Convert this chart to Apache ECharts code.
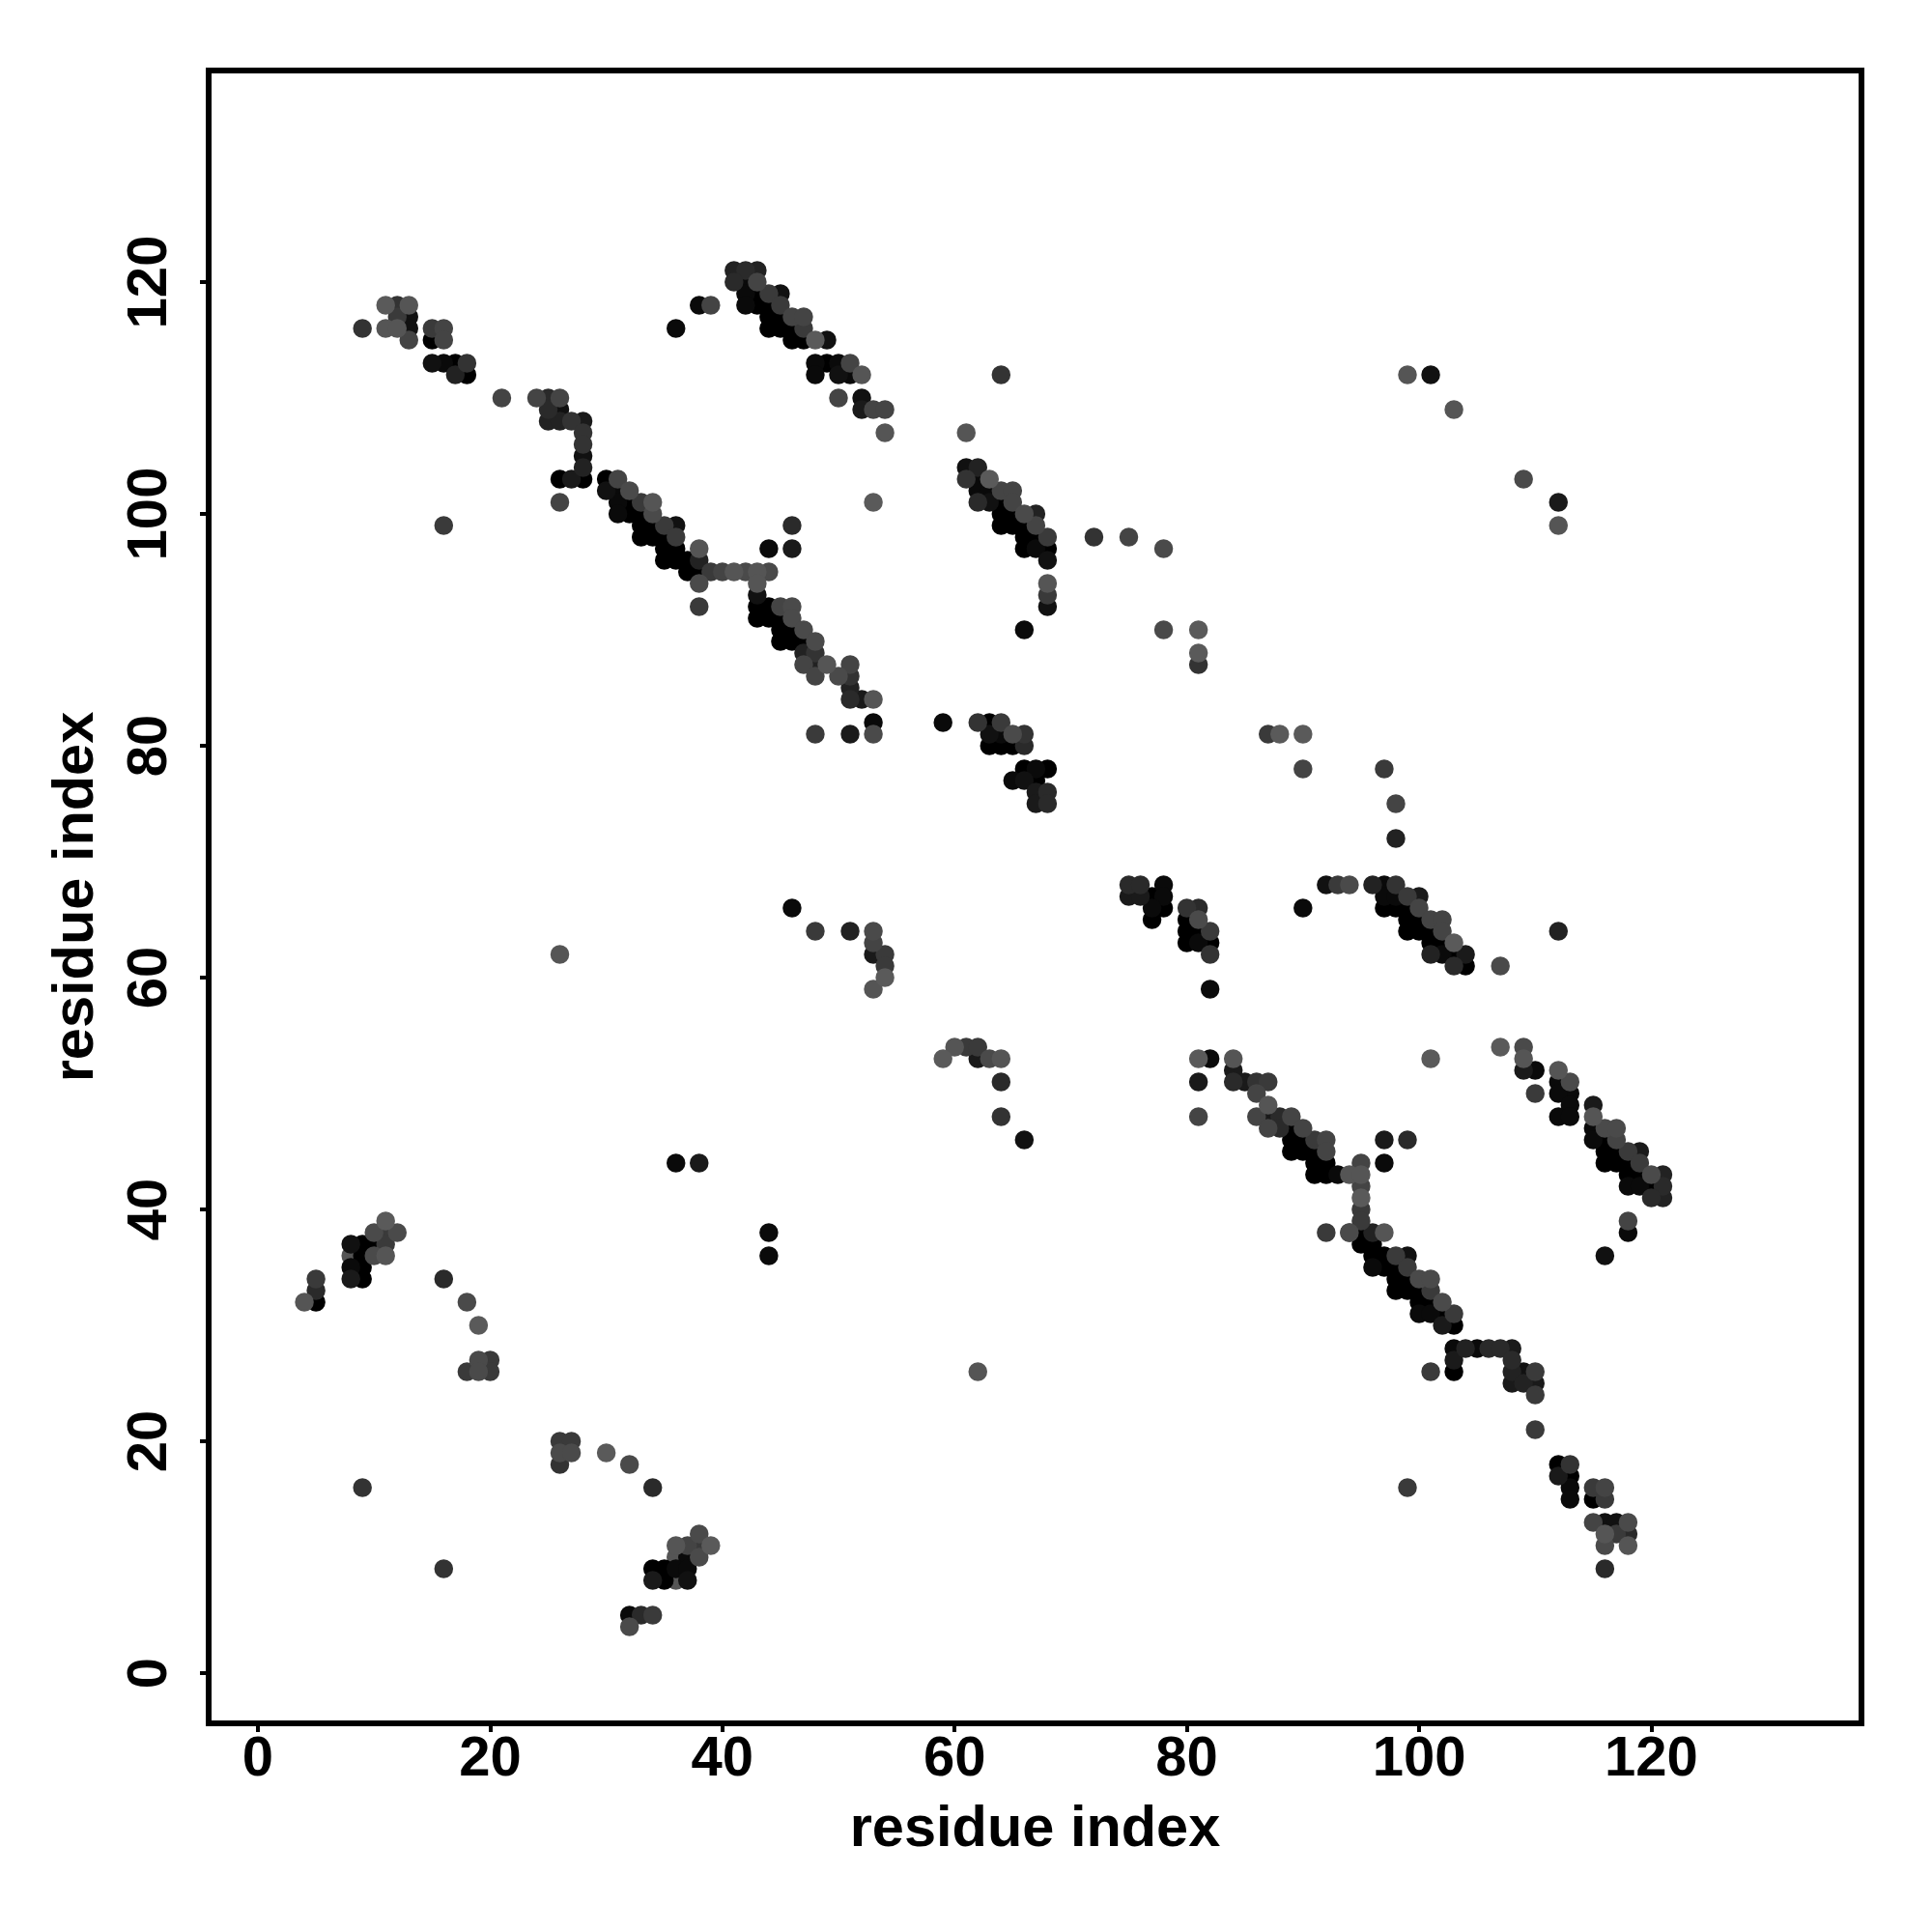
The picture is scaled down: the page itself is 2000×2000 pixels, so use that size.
<!DOCTYPE html>
<html>
<head>
<meta charset="utf-8">
<style>html,body{margin:0;padding:0;background:#fff}#c{width:2000px;height:2000px}</style>
<script src="https://cdn.jsdelivr.net/npm/echarts@6/dist/echarts.min.js"></script>
</head>
<body>
<div id="c"></div>
<script>
// Each contact: [residue i, residue j, grey level]
const xTicks = [0,20,40,60,80,100,120];
const yTicks = [0,20,40,60,80,100,120];
const axisName = 'residue index';
const xLimits = [-4.243, 138.1];
const yLimits = [-4.333, 138.25];
const greyRange = [0, 102];

const sheetTopLeft = [[9,116,51],[11,118,90],[12,118,51],[13,118,85],[12,117,58],[13,117,17],[11,116,85],[12,116,85],[13,116,17],[13,115,68],[15,116,58],[16,116,68],[15,115,0],[16,115,68],[15,113,17],[16,113,10],[17,113,0],[18,113,51],[17,112,34],[18,112,0],[21,110,68],[24,110,68],[25,110,42],[26,110,68],[25,109,42],[26,109,17],[25,108,34],[26,108,34],[27,108,51],[28,108,26],[28,107,51],[28,106,51],[28,105,17],[28,104,34],[28,103,0],[26,103,0],[27,103,26],[26,101,68],[16,99,58]];
const diagMainUpper = [[30,103,0],[31,103,68],[30,102,17],[31,102,10],[32,102,74],[31,101,10],[32,101,0],[33,101,58],[34,101,85],[31,100,10],[32,100,0],[33,100,0],[34,100,74],[33,99,0],[34,99,0],[35,99,58],[36,99,17],[33,98,0],[34,98,0],[35,98,0],[36,98,58],[35,97,0],[36,97,0],[38,97,85],[35,96,0],[36,96,0],[37,96,0],[38,96,34],[37,95,0],[38,95,0],[39,95,58],[40,95,68],[41,95,85],[42,95,74],[43,95,85],[44,95,74],[38,94,74],[38,92,58],[43,94,85],[43,93,17],[44,97,10],[46,97,26],[46,99,42]];
const diagMainLower = [[43,92,0],[44,92,0],[45,92,68],[46,92,74],[43,91,0],[44,91,0],[45,91,0],[46,91,74],[45,90,0],[46,90,0],[47,90,74],[45,89,0],[46,89,0],[47,89,0],[48,89,74],[47,88,34],[48,88,51],[47,87,68],[48,87,34],[49,87,85],[51,87,68],[48,86,68],[50,86,74],[51,86,51],[51,85,34],[51,84,42],[52,84,26],[53,84,85],[53,82,10],[53,81,74],[51,81,26],[48,81,58],[59,82,10]];
const diagSecondTop = [[36,116,10],[38,118,10],[39,118,68],[41,121,34],[42,121,42],[43,121,34],[41,120,42],[42,120,10],[43,120,68],[42,119,10],[43,119,0],[44,119,58],[45,119,17],[42,118,10],[43,118,0],[44,118,0],[45,118,58],[44,117,0],[45,117,0],[46,117,68],[47,117,68],[44,116,0],[45,116,0],[46,116,0],[47,116,58],[46,115,0],[47,115,0],[48,115,90],[49,115,17],[48,113,10],[49,113,0],[50,113,10],[51,113,68],[48,112,10],[50,112,17],[51,112,10],[52,112,85],[50,110,68],[52,110,17],[52,109,26],[53,109,68],[54,109,68],[54,107,85],[53,101,90],[64,112,51]];
const blockSixties = [[61,107,85],[61,104,17],[62,104,34],[61,103,51],[62,103,10],[63,103,90],[62,102,10],[63,102,10],[64,102,68],[65,102,68],[62,101,42],[63,101,17],[64,101,0],[65,101,68],[64,100,0],[65,100,0],[66,100,74],[67,100,34],[64,99,0],[65,99,0],[66,99,0],[67,99,68],[66,98,0],[67,98,0],[68,98,58],[66,97,0],[67,97,10],[68,97,0],[68,96,17],[68,94,85],[68,93,58],[68,92,17],[66,90,10],[72,98,51],[75,98,68],[78,97,74],[78,90,74],[81,90,90],[81,88,90],[81,87,51],[87,81,58],[88,81,90],[90,81,90],[90,78,68],[97,78,58],[98,75,68],[98,72,34]];
const blockEighty = [[62,82,51],[63,82,0],[64,82,58],[63,81,17],[64,81,10],[65,81,74],[66,81,51],[63,80,0],[64,80,0],[65,80,0],[66,80,42],[66,78,0],[67,78,10],[68,78,0],[65,77,10],[66,77,17],[67,77,0],[67,76,26],[68,76,42],[67,75,26],[68,75,42]];
const blockSeventy = [[75,68,42],[76,68,42],[78,68,10],[75,67,26],[76,67,26],[77,67,0],[78,67,10],[77,66,10],[78,66,0],[77,65,0],[80,66,51],[81,66,42],[80,65,0],[81,65,74],[80,64,0],[81,64,0],[82,64,58],[80,63,0],[81,63,10],[82,63,0],[82,62,51],[82,59,10]];
const diagHundred = [[90,66,10],[92,68,17],[93,68,58],[94,68,74],[96,68,34],[97,68,10],[98,68,51],[97,67,10],[98,67,10],[99,67,58],[100,67,26],[97,66,0],[98,66,0],[99,66,0],[100,66,68],[99,65,0],[100,65,0],[101,65,68],[102,65,68],[99,64,0],[100,64,0],[101,64,0],[102,64,68],[101,63,0],[102,63,0],[103,63,90],[101,62,34],[102,62,10],[103,62,0],[104,62,26],[103,61,42],[104,61,0],[107,61,74],[112,64,34]];
const diagFifties = [[81,53,90],[82,53,10],[84,53,85],[81,51,26],[81,48,68],[84,52,26],[84,51,42],[85,51,26],[86,51,51],[87,51,58],[86,50,68],[87,49,85],[86,48,68],[87,48,26],[88,48,42],[89,48,68],[87,47,68],[88,47,42],[89,47,0],[90,47,68],[89,46,0],[90,46,0],[91,46,58],[92,46,68],[89,45,0],[90,45,0],[91,45,0],[92,45,68],[91,44,0],[92,44,0],[95,44,68],[97,44,10],[97,46,26],[99,46,42],[91,43,0],[92,43,0],[93,43,10],[94,43,85],[95,43,85],[101,53,90]];
const sheetRightEdge = [[107,54,90],[109,54,74],[109,53,85],[109,52,26],[110,52,10],[110,50,58],[112,52,85],[113,51,74],[112,51,10],[113,50,10],[112,50,10],[113,49,10],[112,48,10],[113,48,10],[115,49,26],[115,48,85],[115,47,10],[116,47,74],[117,47,74],[115,46,10],[116,46,0],[117,46,68],[116,45,0],[117,45,0],[118,45,58],[119,45,26],[116,44,0],[117,44,0],[118,44,0],[119,44,58],[118,43,0],[119,43,0],[120,43,74],[121,43,34],[118,42,10],[119,42,10],[120,42,0],[121,42,42],[120,41,42],[121,41,34],[118,39,68],[118,38,10],[116,36,17]];
const diagThirties = [[95,42,68],[95,41,90],[95,40,58],[95,39,58],[92,38,58],[94,38,74],[95,38,0],[96,38,34],[97,38,85],[95,37,0],[96,37,0],[96,36,0],[97,36,0],[98,36,58],[99,36,17],[96,35,10],[97,35,0],[98,35,0],[99,35,58],[98,34,0],[99,34,0],[100,34,74],[101,34,74],[98,33,0],[99,33,0],[100,33,0],[101,33,58],[100,32,0],[101,32,0],[102,32,74],[100,31,10],[101,31,10],[102,31,0],[103,31,58],[102,30,26],[103,30,0]];
const diagTwenties = [[103,28,10],[104,28,34],[105,28,10],[106,28,42],[107,28,42],[108,28,26],[103,27,26],[108,27,42],[103,26,0],[101,26,58],[108,26,34],[109,26,17],[110,26,58],[108,25,26],[109,25,34],[110,25,26],[110,24,58],[110,21,58],[99,16,58]];
const cornerBottomRight = [[112,18,0],[113,18,51],[112,17,26],[113,17,0],[113,16,10],[113,15,10],[115,16,58],[116,16,68],[115,15,0],[116,15,58],[115,13,68],[116,13,17],[117,13,17],[118,13,74],[116,12,85],[117,12,58],[118,12,42],[116,11,74],[118,11,85],[116,9,42]];
const clusterLeft = [[5,34,58],[5,33,42],[5,32,0],[4,32,85],[11,39,90],[10,38,74],[11,38,58],[12,38,74],[8,37,17],[9,37,0],[10,37,0],[11,37,58],[9,36,0],[10,36,74],[11,36,85],[8,35,10],[9,35,0],[8,34,26],[9,34,0],[16,34,42],[18,32,74],[19,30,90],[18,26,58],[19,27,74],[20,27,58],[19,26,74],[20,26,58],[26,20,58],[27,20,58],[26,19,74],[27,19,74],[26,18,51],[30,19,90],[9,16,51],[32,18,74],[34,16,42],[16,9,51]];
const clusterThirties = [[38,12,74],[36,11,85],[37,11,68],[38,11,58],[39,11,90],[37,10,10],[38,10,74],[34,9,0],[35,9,0],[36,9,10],[37,9,10],[34,8,26],[35,8,0],[37,8,17],[32,5,10],[33,5,42],[34,5,58],[32,4,74]];
const scattered = [[62,26,85],[26,62,85],[46,66,10],[48,64,58],[51,64,34],[53,64,74],[53,63,68],[53,62,26],[54,62,58],[54,61,58],[54,60,90],[53,59,85],[36,44,10],[38,44,26],[44,38,10],[44,36,10],[59,53,90],[60,54,85],[61,54,58],[62,54,58],[62,53,26],[63,53,74],[64,53,85],[64,51,42],[64,48,51],[66,46,17],[99,112,85],[101,112,17],[103,109,85],[109,103,74],[112,101,26],[112,99,85]];
const drawnFirst = [[8,36,85],[36,10,85],[36,8,85],[94,38,74]];

const allContacts = [].concat(sheetTopLeft, diagMainUpper, diagMainLower, diagSecondTop, blockSixties, blockEighty, blockSeventy, diagHundred, diagFifties, sheetRightEdge, diagThirties, diagTwenties, cornerBottomRight, clusterLeft, clusterThirties, scattered);
const sorted = allContacts.slice().sort((a, b) => a[2] - b[2]);
const contacts = drawnFirst.concat(sorted);

const fontFamily = '"Liberation Sans", Arial, sans-serif';
const chart = echarts.init(document.getElementById('c'), null, {renderer: 'canvas', width: 2000, height: 2000});
chart.setOption({
  animation: false,
  backgroundColor: '#ffffff',
  grid: {show: true, left: 216, top: 73, width: 1711, height: 1711, borderColor: '#000', borderWidth: 6, backgroundColor: 'transparent'},
  visualMap: {show: false, type: 'continuous', dimension: 2, min: greyRange[0], max: greyRange[1], inRange: {color: ['#000000', '#666666']}, seriesIndex: 0},
  xAxis: {
    type: 'value', min: xLimits[0], max: xLimits[1],
    name: axisName, nameLocation: 'middle', nameGap: 81,
    nameTextStyle: {fontFamily, fontWeight: 'bold', fontSize: 59.5, color: '#000'},
    splitLine: {show: false}, axisLine: {show: false, onZero: false},
    axisTick: {show: true, length: 9, lineStyle: {width: 4, color: '#000'}, customValues: xTicks},
    axisLabel: {margin: 9, fontFamily, fontWeight: 'bold', fontSize: 58, color: '#000', customValues: xTicks, formatter: v => String(v), showMinLabel: true, showMaxLabel: true}
  },
  yAxis: {
    type: 'value', min: yLimits[0], max: yLimits[1],
    name: axisName, nameLocation: 'middle', nameGap: 106,
    nameTextStyle: {fontFamily, fontWeight: 'bold', fontSize: 59.5, color: '#000'},
    splitLine: {show: false}, axisLine: {show: false, onZero: false},
    axisTick: {show: true, length: 9, lineStyle: {width: 4, color: '#000'}, customValues: yTicks},
    axisLabel: {rotate: 90, margin: 31, fontFamily, fontWeight: 'bold', fontSize: 58, color: '#000', customValues: yTicks, formatter: v => String(v)}
  },
  series: [{
    type: 'scatter', data: contacts, symbol: 'circle', symbolSize: 19.5,
    encode: {x: 0, y: 1}, silent: true, itemStyle: {opacity: 1}
  }]
});
</script>
</body>
</html>
